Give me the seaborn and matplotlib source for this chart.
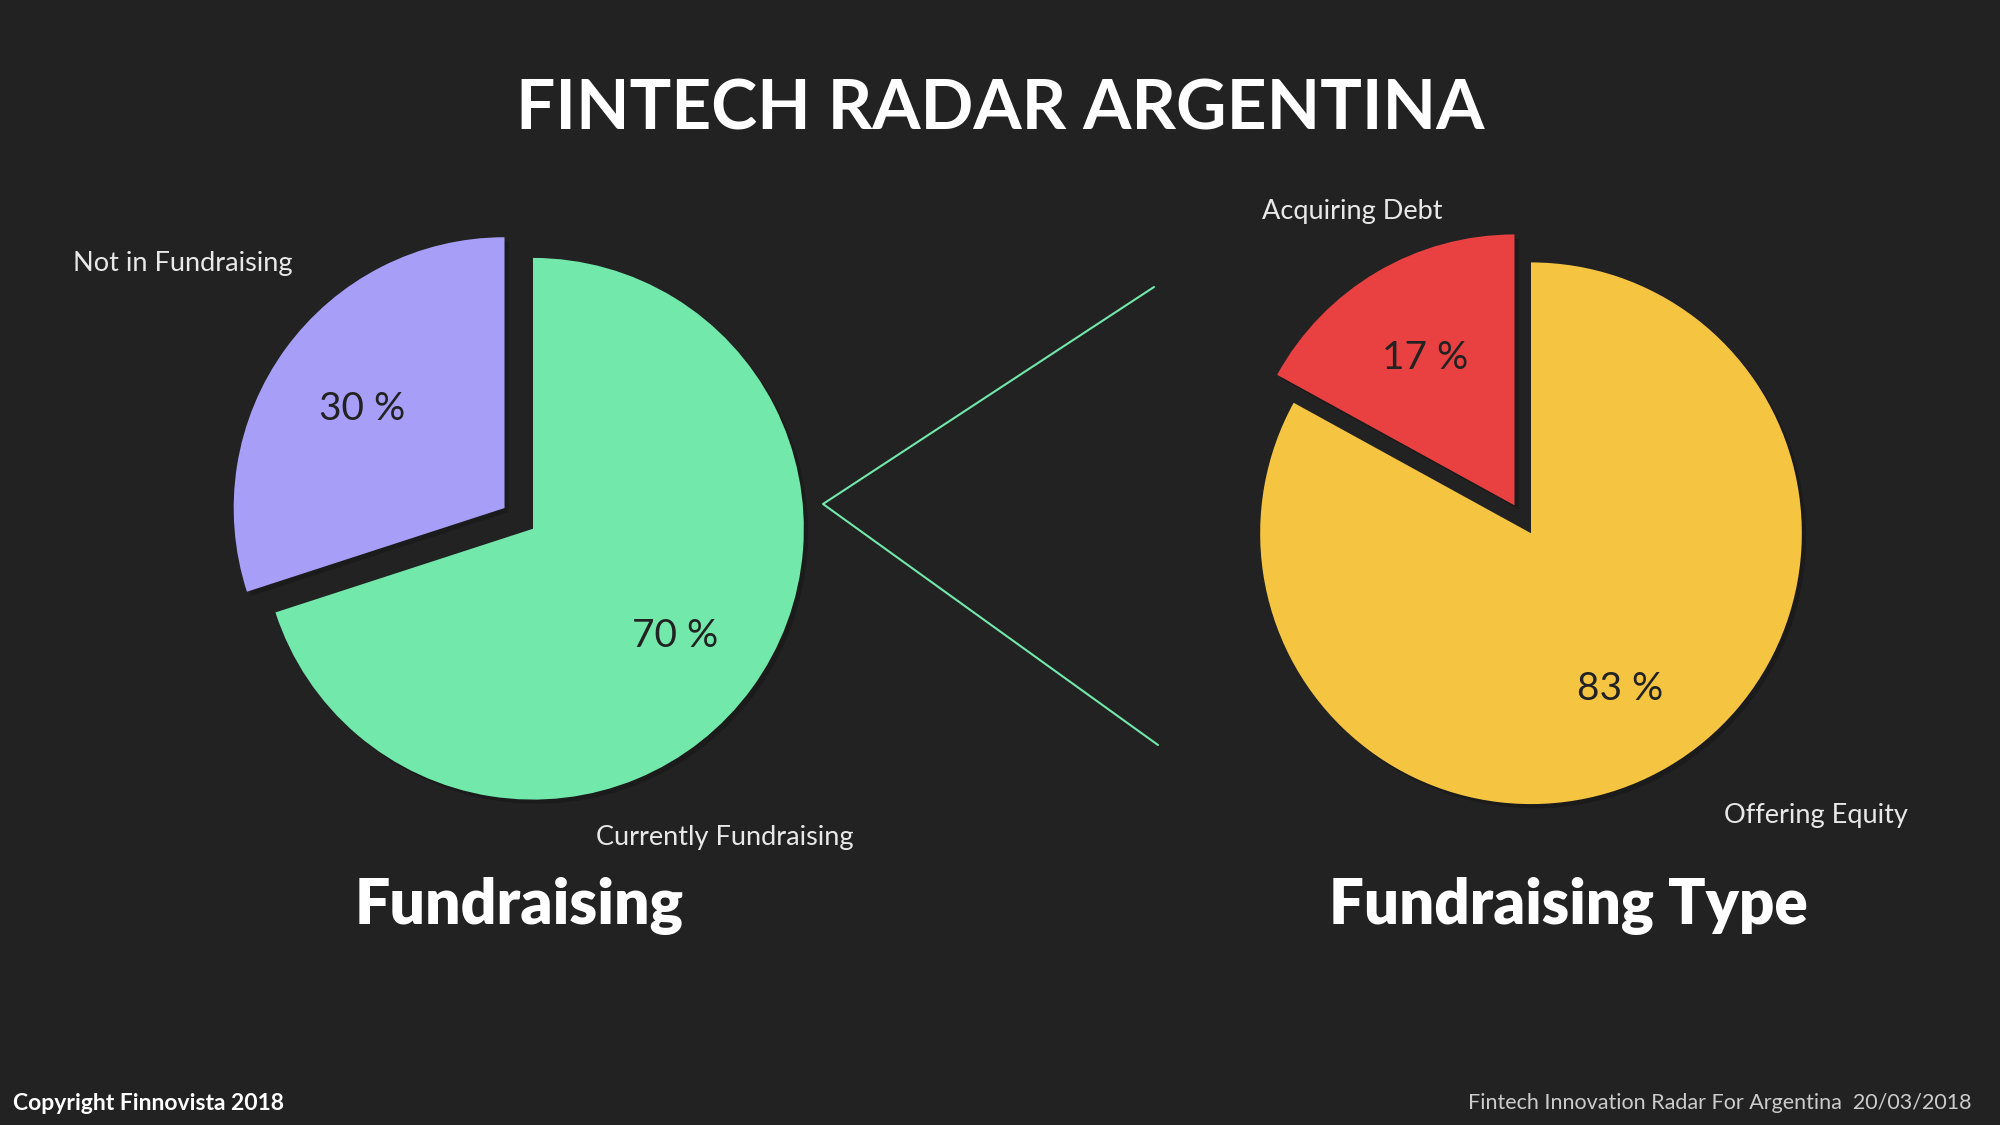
import matplotlib
matplotlib.use("Agg")
import matplotlib.pyplot as plt
import matplotlib.patheffects as pe
from matplotlib.lines import Line2D
import seaborn as sns

# data
fund_labels = ["Not in Fundraising", "Currently Fundraising"]
fund_values = [30, 70]
type_labels = ["Acquiring Debt", "Offering Equity"]
type_values = [17, 83]

BG = "#222222"
fund_colors = ["#A79EF7", "#72E8AB"]
type_colors = ["#E94141", "#F5C542"]

sns.set_theme(style="dark", rc={"figure.facecolor": BG, "axes.facecolor": BG})
plt.rcParams["font.family"] = ["Lato", "DejaVu Sans"]

fig = plt.figure(figsize=(20, 11.25), dpi=100)
fig.patch.set_facecolor(BG)


def draw_pie(rect, values, colors, explode):
    ax = fig.add_axes(rect)
    ax.set_facecolor(BG)
    wedges, texts, autotexts = ax.pie(
        values,
        colors=colors,
        startangle=90,
        explode=explode,
        autopct=lambda p: f"{p:.0f} %",
        pctdistance=0.65,
        wedgeprops={"linewidth": 0},
        textprops={"fontsize": 28, "color": "#222222", "fontweight": "normal"},
    )
    for w in wedges:
        w.set_path_effects([
            pe.SimplePatchShadow(offset=(3, -3), shadow_rgbFace="black", alpha=0.2),
            pe.Normal(),
        ])
    # nudge the percentages a touch lower, like the slide
    for t in autotexts:
        x, y = t.get_position()
        t.set_position((x, y - 0.015))
    ax.set_xlim(-1.2, 1.2)
    ax.set_ylim(-1.2, 1.2)
    ax.set_aspect("equal")
    ax.axis("off")
    return ax


draw_pie([0.104, 0.241, 0.325, 0.578], fund_values, fund_colors, [0.13, 0])
draw_pie([0.603, 0.237, 0.325, 0.578], type_values, type_colors, [0.12, 0])

# slice labels
lab_kw = dict(color="#e8e8e8", fontsize=19.5, fontweight="normal", va="center", ha="left")
fig.text(73 / 2000, 1 - 263 / 1125, fund_labels[0], **lab_kw)
fig.text(596 / 2000, 1 - 837 / 1125, fund_labels[1], **lab_kw)
fig.text(1262 / 2000, 1 - 212 / 1125, type_labels[0], **lab_kw)
fig.text(1724 / 2000, 1 - 815 / 1125, type_labels[1], **lab_kw)

# connector lines
line_color = "#72E8AB"
fig.add_artist(Line2D([1154 / 2000, 823 / 2000, 1158 / 2000],
                      [1 - 287 / 1125, 1 - 504 / 1125, 1 - 745 / 1125],
                      transform=fig.transFigure, color=line_color, lw=1.5))

# titles
fig.text(0.5, 1 - 110 / 1125, "FINTECH RADAR ARGENTINA", color="white",
         fontsize=50, fontweight="bold", ha="center", va="center")
fig.text(519 / 2000, 1 - 906 / 1125, "Fundraising", color="white",
         fontsize=45, fontweight="heavy", ha="center", va="center")
fig.text(1568 / 2000, 1 - 906 / 1125, "Fundraising Type", color="white",
         fontsize=44.5, fontweight="heavy", ha="center", va="center")

# footer
fig.text(13 / 2000, 1 - 1103 / 1125, "Copyright Finnovista 2018", color="white",
         fontsize=16.5, fontweight="bold", ha="left", va="center")
fig.text(1971 / 2000, 1 - 1103 / 1125, "Fintech Innovation Radar For Argentina  20/03/2018",
         color="#cccccc", fontsize=15.5, fontweight="normal", ha="right", va="center")

fig.savefig("out.png", dpi=100, facecolor=BG)
